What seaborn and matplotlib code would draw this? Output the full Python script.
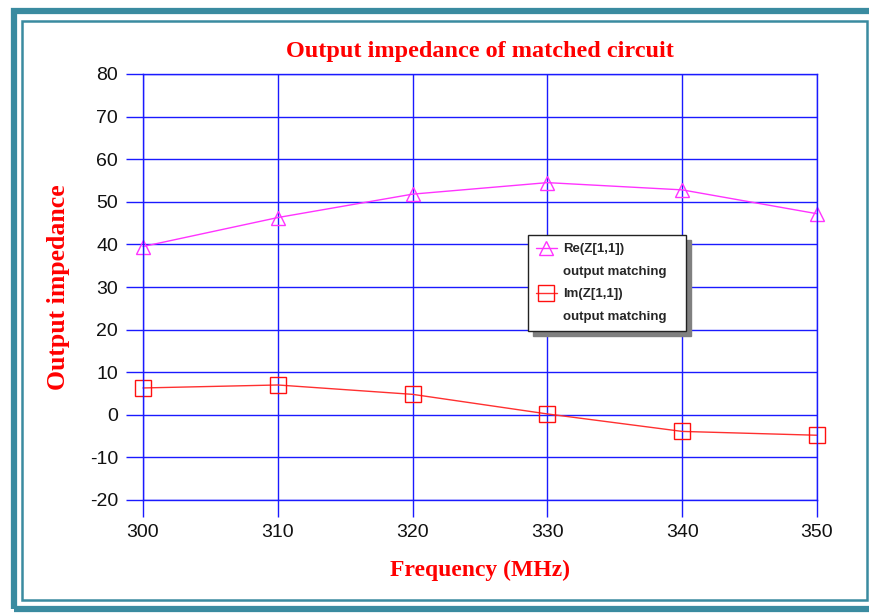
import matplotlib
matplotlib.use("Agg")
import matplotlib.pyplot as plt
import matplotlib.patches as patches
from matplotlib.lines import Line2D
import pandas as pd
import seaborn as sns

# -----------------------------
# Data
# -----------------------------
freq = [300, 310, 320, 330, 340, 350]
re_z = [39.5, 46.3, 51.8, 54.5, 52.8, 47.2]
im_z = [6.3, 7.0, 4.8, 0.2, -3.9, -4.8]

x_ticks = [300, 310, 320, 330, 340, 350]
y_ticks = [-20, -10, 0, 10, 20, 30, 40, 50, 60, 70, 80]

df = pd.DataFrame({"freq": freq, "re": re_z, "im": im_z})

# -----------------------------
# Style
# -----------------------------
sns.set_style("white")
plt.rcParams["font.family"] = ["Liberation Sans", "DejaVu Sans"]
plt.rcParams["axes.unicode_minus"] = False

W, H = 869, 613
fig = plt.figure(figsize=(W / 100, H / 100), dpi=100)
ax = fig.add_axes([143 / W, 1 - 500 / H, (817 - 143) / W, (500 - 74) / H])

magenta = "#ff33ff"
red = "#ff3030"

# -----------------------------
# Lines
# -----------------------------
sns.lineplot(data=df, x="freq", y="re", ax=ax, color=magenta, lw=1,
             marker="^", markersize=10, markerfacecolor="none",
             markeredgecolor=magenta, markeredgewidth=1,
             legend=False, clip_on=False)
sns.lineplot(data=df, x="freq", y="im", ax=ax, color=red, lw=1,
             marker="s", markersize=11, markerfacecolor="none",
             markeredgecolor="#ff1010", markeredgewidth=1,
             legend=False, clip_on=False)

# -----------------------------
# Axes
# -----------------------------
ax.set_xlim(300, 350)
ax.set_ylim(-20, 80)
ax.set_xticks(x_ticks)
ax.set_yticks(y_ticks)
ax.grid(True, color="#1a1aff", lw=1)
ax.set_axisbelow(True)
for s in ax.spines.values():
    s.set_color("#1a1aff")
    s.set_linewidth(1)
ax.tick_params(axis="both", direction="out", length=12, width=1,
               bottom=True, left=True, color="#1a1aff",
               labelsize=14, labelcolor="#111111", pad=5)
ax.tick_params(axis="y", pad=6)

serif = ["Liberation Serif", "DejaVu Serif"]
ax.set_title("Output impedance of matched circuit", fontsize=17.5,
             fontweight="bold", color="#ff0000", family=serif, pad=12)
ax.set_xlabel("Frequency (MHz)", fontsize=17, fontweight="bold",
              color="#ff0000", family=serif, labelpad=14)
ax.set_ylabel("Output impedance", fontsize=18.5, fontweight="bold",
              color="#ff0000", family=serif, labelpad=14)

# legend: marker sits next to the first line of each entry
blank = Line2D([], [], color="none")
h_re = Line2D([], [], color=magenta, lw=1, marker="^", markersize=10,
              markerfacecolor="none", markeredgecolor=magenta)
h_im = Line2D([], [], color=red, lw=1, marker="s", markersize=11,
              markerfacecolor="none", markeredgecolor="#ff1010")
leg = ax.legend([h_re, blank, h_im, blank],
                ["Re(Z[1,1])", "output matching   ", "Im(Z[1,1])", "output matching   "],
                loc="upper left", bbox_to_anchor=(0.571, 0.622),
                frameon=True, fancybox=False,
                shadow={"color": "#808080", "alpha": 1, "ox": 3.5, "oy": -3.5},
                edgecolor="#222222", framealpha=1, handlelength=1.6,
                handletextpad=0.5, labelspacing=0.78, borderpad=0.6,
                borderaxespad=0, prop={"weight": "bold", "size": 9.5})
leg.get_frame().set_linewidth(1)

# -----------------------------
# Double teal frame
# -----------------------------
teal = "#3a8ba0"
fig.patches.append(patches.Rectangle((13.5 / W, 1 - 608.5 / H), (880 - 13.5) / W,
                                     (608.5 - 11) / H, transform=fig.transFigure,
                                     fill=False, edgecolor=teal, lw=4.5))
fig.patches.append(patches.Rectangle((22 / W, 1 - 600 / H), (867 - 22) / W,
                                     (600 - 21) / H, transform=fig.transFigure,
                                     fill=False, edgecolor=teal, lw=1.8))

fig.savefig("out.png", dpi=100)
